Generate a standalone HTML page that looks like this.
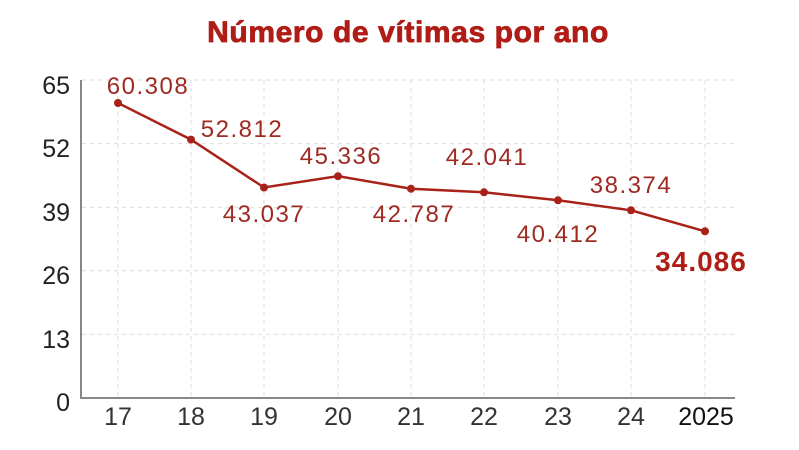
<!DOCTYPE html>
<html><head><meta charset="utf-8"><style>
body{margin:0;background:#fff;}
svg{display:block;font-family:"Liberation Sans",sans-serif;}
</style></head><body>
<svg width="799" height="450" viewBox="0 0 799 450">
<text x="408" y="42" text-anchor="middle" font-size="30" font-weight="900" fill="#b01c16" letter-spacing="0.6" stroke="#b01c16" stroke-width="0.8">Número de vítimas por ano</text>
<g stroke="#ddd" stroke-width="1" stroke-dasharray="4,4">
<line x1="82" x2="735" y1="80" y2="80"/><line x1="82" x2="735" y1="143.6" y2="143.6"/>
<line x1="82" x2="735" y1="207.2" y2="207.2"/><line x1="82" x2="735" y1="270.8" y2="270.8"/>
<line x1="82" x2="735" y1="334.4" y2="334.4"/>
<line x1="118" x2="118" y1="80" y2="398"/><line x1="191" x2="191" y1="80" y2="398"/>
<line x1="264" x2="264" y1="80" y2="398"/><line x1="338" x2="338" y1="80" y2="398"/>
<line x1="411" x2="411" y1="80" y2="398"/><line x1="484" x2="484" y1="80" y2="398"/>
<line x1="558" x2="558" y1="80" y2="398"/><line x1="631" x2="631" y1="80" y2="398"/>
<line x1="705" x2="705" y1="80" y2="398"/>
</g>
<path d="M81 80V398H735" fill="none" stroke="#888" stroke-width="2"/>
<g font-size="25" fill="#222" text-anchor="end">
<text x="70" y="94">65</text><text x="70" y="157">52</text><text x="70" y="221">39</text>
<text x="70" y="284">26</text><text x="70" y="348">13</text><text x="70" y="411">0</text>
</g>
<g font-size="25" fill="#333" text-anchor="middle">
<text x="118" y="425">17</text><text x="191" y="425">18</text><text x="264" y="425">19</text>
<text x="338" y="425">20</text><text x="411" y="425">21</text><text x="484" y="425">22</text>
<text x="558" y="425">23</text><text x="631" y="425">24</text><text x="706" y="425" fill="#111">2025</text>
</g>
<polyline fill="none" stroke="#a82219" stroke-width="2.5" points="118,103 191,139.6 264,187.5 338,176.2 411,188.7 484,192.3 558,200.3 631,210.3 705,231.3"/>
<g fill="#a82219">
<circle cx="118" cy="103" r="4"/><circle cx="191" cy="139.6" r="4"/><circle cx="264" cy="187.5" r="4"/>
<circle cx="338" cy="176.2" r="4"/><circle cx="411" cy="188.7" r="4"/><circle cx="484" cy="192.3" r="4"/>
<circle cx="558" cy="200.3" r="4"/><circle cx="631" cy="210.3" r="4"/><circle cx="705" cy="231.3" r="4"/>
</g>
<g font-size="24" fill="#9e2a22" text-anchor="middle" letter-spacing="1.5">
<text x="148" y="94">60.308</text><text x="242" y="137">52.812</text><text x="264" y="222">43.037</text>
<text x="341" y="164">45.336</text><text x="414" y="222">42.787</text><text x="487" y="165">42.041</text>
<text x="558" y="242">40.412</text><text x="631" y="193">38.374</text>
<text x="701" y="271" font-weight="bold" font-size="28" letter-spacing="1" fill="#b01c16">34.086</text>
</g>
</svg>
</body></html>
